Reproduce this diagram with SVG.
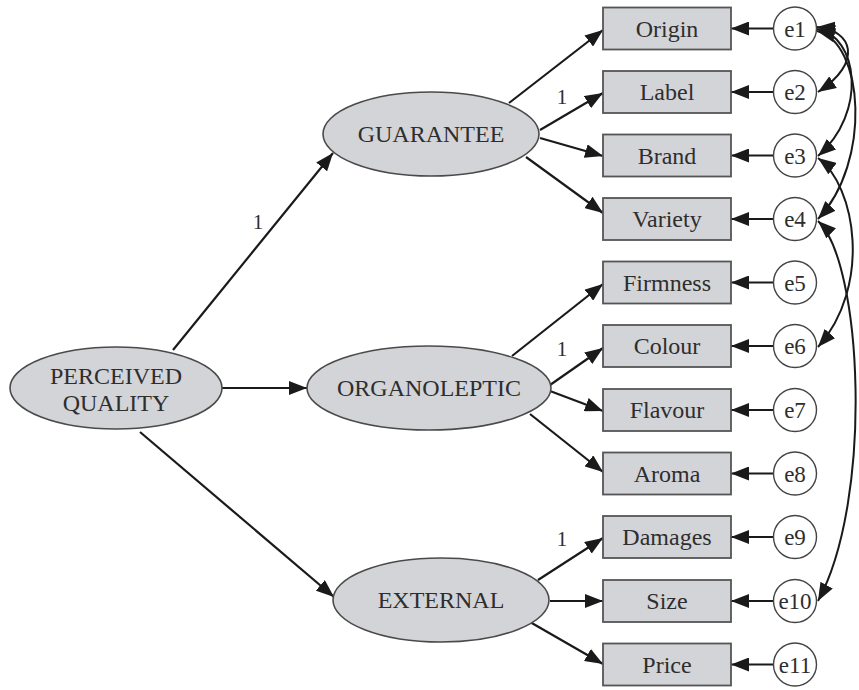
<svg xmlns="http://www.w3.org/2000/svg" width="859" height="690" viewBox="0 0 859 690">
  <style>
    .lat { fill: #d3d4d7; stroke: #4a4a4a; stroke-width: 1.6; }
    .obs { fill: #d3d4d7; stroke: #555; stroke-width: 1.8; }
    .err { fill: #fff; stroke: #444; stroke-width: 1.4; }
    text { font-family: 'Liberation Serif', 'DejaVu Serif', 'Times New Roman', Times, serif; fill: #2e2e2e; text-anchor: middle; }
    .lbl { font-size: 24px; }
    .elbl { font-size: 23px; }
    .wt { font-size: 21px; }
    .edge { fill: none; stroke: #1a1a1a; stroke-width: 2.2; marker-end: url(#arrow); }
    .cov { fill: none; stroke: #1a1a1a; stroke-width: 2; marker-start: url(#arrow); marker-end: url(#arrow); }
  </style>
  <defs>
    <marker id="arrow" viewBox="0 0 18 14" refX="18" refY="7" markerWidth="18" markerHeight="14" markerUnits="userSpaceOnUse" orient="auto-start-reverse">
      <path d="M0,0 L18,7 L0,14 z" fill="#1a1a1a"/>
    </marker>
  </defs>

  <rect width="859" height="690" fill="#fff"/>

  <!-- connectors -->
  <g id="connectors">
    <!-- second-order loadings -->
    <path class="edge" d="M173,350 L333,153"/>
    <path class="edge" d="M222,388 L307,388"/>
    <path class="edge" d="M140,432 L334,597"/>
    <!-- GUARANTEE indicators -->
    <path class="edge" d="M509,103 L603,30"/>
    <path class="edge" d="M540,130 L603,93"/>
    <path class="edge" d="M540,138 L603,156"/>
    <path class="edge" d="M526,157 L603,213"/>
    <!-- ORGANOLEPTIC indicators -->
    <path class="edge" d="M512,356 L603,284"/>
    <path class="edge" d="M550,385 L603,348"/>
    <path class="edge" d="M550,391 L603,411"/>
    <path class="edge" d="M530,414 L603,472"/>
    <!-- EXTERNAL indicators -->
    <path class="edge" d="M538,580 L603,538"/>
    <path class="edge" d="M550,601 L603,601"/>
    <path class="edge" d="M530,622 L603,664"/>
    <!-- error terms -->
    <path class="edge" d="M773,28.5 L731,28.5"/>
    <path class="edge" d="M773,92 L731,92"/>
    <path class="edge" d="M773,155.5 L731,155.5"/>
    <path class="edge" d="M773,219 L731,219"/>
    <path class="edge" d="M773,282.5 L731,282.5"/>
    <path class="edge" d="M773,346 L731,346"/>
    <path class="edge" d="M773,410 L731,410"/>
    <path class="edge" d="M773,473.5 L731,473.5"/>
    <path class="edge" d="M773,537 L731,537"/>
    <path class="edge" d="M773,601 L731,601"/>
    <path class="edge" d="M773,664.5 L731,664.5"/>
    <!-- error covariances -->
    <path class="cov" d="M817,27 C852,30 864,62 818,92"/>
    <path class="cov" d="M817,29 C858,36 868,112 818,156"/>
    <path class="cov" d="M817,31 C864,42 872,162 818,219"/>
    <path class="cov" d="M818,158 C856,186 872,286 818,347"/>
    <path class="cov" d="M818,221 C862,262 874,498 818,601"/>
  </g>

  <!-- weight labels -->
  <text class="wt" x="258" y="229">1</text>
  <text class="wt" x="562" y="104">1</text>
  <text class="wt" x="562" y="356">1</text>
  <text class="wt" x="562" y="546">1</text>

  <!-- latent factors -->
  <g id="perceived">
    <ellipse class="lat" cx="116" cy="388" rx="106" ry="41"/>
    <text class="lbl" x="116" y="384">PERCEIVED</text>
    <text class="lbl" x="116" y="411">QUALITY</text>
  </g>
  <g id="guarantee">
    <ellipse class="lat" cx="431" cy="134" rx="108" ry="42"/>
    <text class="lbl" x="431" y="142">GUARANTEE</text>
  </g>
  <g id="organoleptic">
    <ellipse class="lat" cx="429" cy="388" rx="122" ry="42"/>
    <text class="lbl" x="429" y="396">ORGANOLEPTIC</text>
  </g>
  <g id="external">
    <ellipse class="lat" cx="441" cy="600" rx="108" ry="42"/>
    <text class="lbl" x="441" y="608">EXTERNAL</text>
  </g>

  <!-- observed indicators -->
  <g id="origin"><rect class="obs" x="603" y="7.5" width="128" height="42"/><text class="lbl" x="667" y="36.5">Origin</text></g>
  <g id="label"><rect class="obs" x="603" y="71" width="128" height="42"/><text class="lbl" x="667" y="100">Label</text></g>
  <g id="brand"><rect class="obs" x="603" y="134.5" width="128" height="42"/><text class="lbl" x="667" y="163.5">Brand</text></g>
  <g id="variety"><rect class="obs" x="603" y="198" width="128" height="42"/><text class="lbl" x="667" y="227">Variety</text></g>
  <g id="firmness"><rect class="obs" x="603" y="261.5" width="128" height="42"/><text class="lbl" x="667" y="290.5">Firmness</text></g>
  <g id="colour"><rect class="obs" x="603" y="325" width="128" height="42"/><text class="lbl" x="667" y="354">Colour</text></g>
  <g id="flavour"><rect class="obs" x="603" y="389" width="128" height="42"/><text class="lbl" x="667" y="418">Flavour</text></g>
  <g id="aroma"><rect class="obs" x="603" y="452.5" width="128" height="42"/><text class="lbl" x="667" y="481.5">Aroma</text></g>
  <g id="damages"><rect class="obs" x="603" y="516" width="128" height="42"/><text class="lbl" x="667" y="545">Damages</text></g>
  <g id="size"><rect class="obs" x="603" y="580" width="128" height="42"/><text class="lbl" x="667" y="609">Size</text></g>
  <g id="price"><rect class="obs" x="603" y="643.5" width="128" height="42"/><text class="lbl" x="667" y="672.5">Price</text></g>

  <!-- error terms -->
  <g id="e1"><circle class="err" cx="795" cy="28.5" r="21.5"/><text class="elbl" x="795" y="36.5">e1</text></g>
  <g id="e2"><circle class="err" cx="795" cy="92" r="21.5"/><text class="elbl" x="795" y="100">e2</text></g>
  <g id="e3"><circle class="err" cx="795" cy="155.5" r="21.5"/><text class="elbl" x="795" y="163.5">e3</text></g>
  <g id="e4"><circle class="err" cx="795" cy="219" r="21.5"/><text class="elbl" x="795" y="227">e4</text></g>
  <g id="e5"><circle class="err" cx="795" cy="282.5" r="21.5"/><text class="elbl" x="795" y="290.5">e5</text></g>
  <g id="e6"><circle class="err" cx="795" cy="346" r="21.5"/><text class="elbl" x="795" y="354">e6</text></g>
  <g id="e7"><circle class="err" cx="795" cy="410" r="21.5"/><text class="elbl" x="795" y="418">e7</text></g>
  <g id="e8"><circle class="err" cx="795" cy="473.5" r="21.5"/><text class="elbl" x="795" y="481.5">e8</text></g>
  <g id="e9"><circle class="err" cx="795" cy="537" r="21.5"/><text class="elbl" x="795" y="545">e9</text></g>
  <g id="e10"><circle class="err" cx="795" cy="601" r="21.5"/><text class="elbl" x="795" y="609">e10</text></g>
  <g id="e11"><circle class="err" cx="795" cy="664.5" r="21.5"/><text class="elbl" x="795" y="672.5">e11</text></g>
</svg>
